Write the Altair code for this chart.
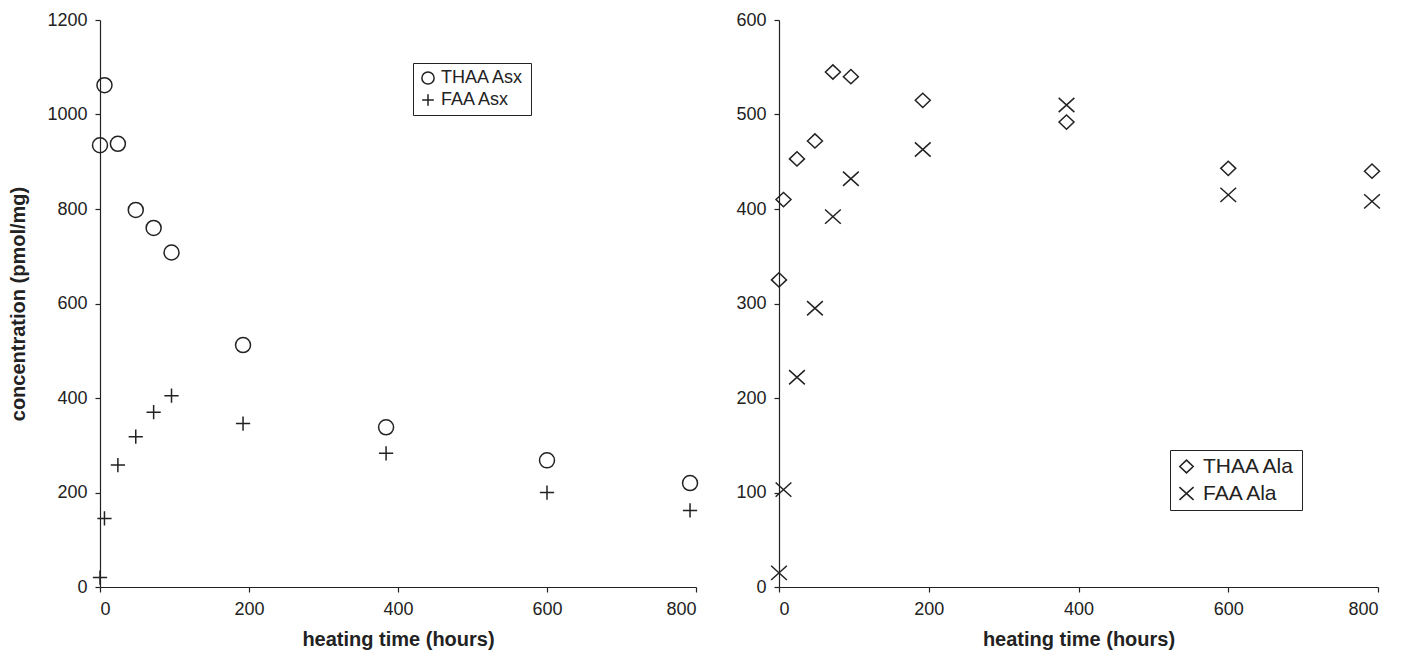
import altair as alt
import pandas as pd

# ---- data ----
hours = [0, 6, 24, 48, 72, 96, 192, 384, 600, 792]
thaa_asx = [935, 1062, 938, 798, 760, 708, 512, 338, 268, 220]
faa_asx = [20, 145, 258, 318, 370, 405, 346, 283, 200, 162]
thaa_ala = [325, 410, 453, 472, 545, 540, 515, 492, 443, 440]
faa_ala = [15, 103, 222, 295, 392, 432, 463, 510, 415, 408]

left_series = ["THAA Asx", "FAA Asx"]
right_series = ["THAA Ala", "FAA Ala"]

CIRCLE = "circle"
PLUS = "M-0.95,0H0.95M0,-0.95V0.95"
XMARK = "M-1.05,-0.95L1.05,0.95M-1.05,0.95L1.05,-0.95"
DIAMOND = "M-1,0L0,-0.95L1,0L0,0.95Z"

left_df = pd.DataFrame(
    {"hours": hours * 2,
     "value": thaa_asx + faa_asx,
     "series": [left_series[0]] * len(hours) + [left_series[1]] * len(hours)}
)
right_df = pd.DataFrame(
    {"hours": hours * 2,
     "value": thaa_ala + faa_ala,
     "series": [right_series[0]] * len(hours) + [right_series[1]] * len(hours)}
)

INK = "#222222"
FONT = "Liberation Sans"

xaxis = alt.Axis(values=[0, 200, 400, 600, 800], title="heating time (hours)", format="d",
                 grid=False, labelPadding=8, titlePadding=11)

left = alt.Chart(left_df).mark_point(filled=False, strokeWidth=1.5, color=INK, opacity=1, size=225).encode(
    x=alt.X("hours:Q", scale=alt.Scale(domain=[0, 800], nice=False), axis=xaxis),
    y=alt.Y("value:Q", scale=alt.Scale(domain=[0, 1200], nice=False),
            axis=alt.Axis(values=[0, 200, 400, 600, 800, 1000, 1200], grid=False, format="d",
                          title="concentration (pmol/mg)", titlePadding=18, labelPadding=8)),
    shape=alt.Shape("series:N",
                    scale=alt.Scale(domain=left_series, range=[CIRCLE, PLUS]),
                    legend=alt.Legend(title=None, orient="none", legendX=313, legendY=43,
                                      symbolSize=150, labelFontSize=18, padding=6,
                                      rowPadding=3, labelOffset=4)),
).properties(width=596, height=567)

right = alt.Chart(right_df).mark_point(filled=False, strokeWidth=1.5, color=INK, opacity=1, size=225).encode(
    x=alt.X("hours:Q", scale=alt.Scale(domain=[0, 800], nice=False), axis=xaxis),
    y=alt.Y("value:Q", scale=alt.Scale(domain=[0, 600], nice=False),
            axis=alt.Axis(values=[0, 100, 200, 300, 400, 500, 600], grid=False, format="d",
                          title=None, labelPadding=8)),
    shape=alt.Shape("series:N",
                    scale=alt.Scale(domain=right_series, range=[DIAMOND, XMARK]),
                    legend=alt.Legend(title=None, orient="none", legendX=391, legendY=430,
                                      symbolSize=180, labelFontSize=21, padding=6,
                                      rowPadding=5, labelOffset=6)),
).properties(width=599, height=567)

chart = alt.hconcat(left, right, spacing=83, bounds="flush").resolve_scale(
    shape="independent", y="independent", x="independent"
).properties(
    padding={"left": 8, "top": 10, "right": 5, "bottom": 5},
    background="white",
).configure_view(stroke="transparent").configure_axis(
    labelFont=FONT, titleFont=FONT, labelFontSize=18, titleFontSize=20, titleFontWeight="bold",
    labelColor=INK, titleColor=INK, domainColor=INK, tickColor=INK, tickSize=5,
    domainWidth=1.2, tickWidth=1.2,
).configure_legend(
    labelFont=FONT, labelColor=INK, strokeColor=INK, strokeWidth=1,
    symbolStrokeColor=INK, symbolStrokeWidth=1.5, symbolFillColor="transparent",
    fillColor="white",
)

chart.save("out.html", embed_options={"renderer": "svg", "actions": False})
